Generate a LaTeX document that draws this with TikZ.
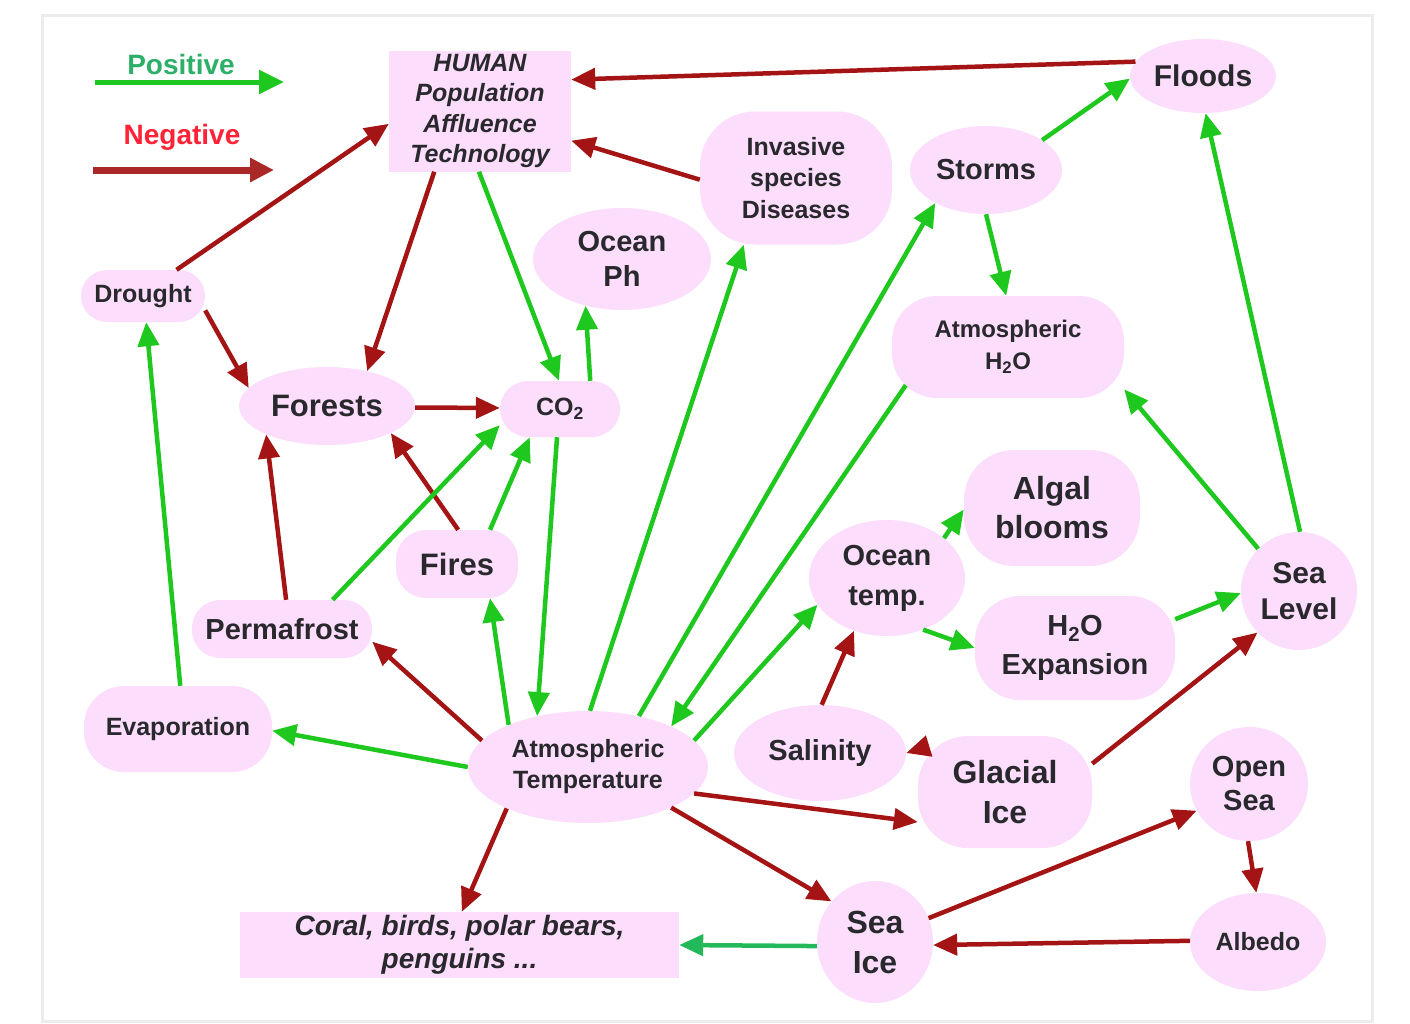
\documentclass[tikz,border=0pt]{standalone}
\usepackage{fontspec}
\setmainfont{Liberation Sans}
\usetikzlibrary{arrows.meta,shapes.geometric,calc}

\definecolor{nodepink}{RGB}{252,222,252}
\definecolor{posgreen}{RGB}{30,200,30}
\definecolor{negred}{RGB}{165,20,20}
\definecolor{legendred}{RGB}{255,35,55}
\definecolor{legendgreen}{RGB}{45,175,105}
\definecolor{legendneg}{RGB}{170,40,40}
\definecolor{tealgreen}{RGB}{35,185,90}
\definecolor{inkgrey}{RGB}{40,40,45}
\definecolor{framegrey}{RGB}{236,236,236}

\newcommand{\fsz}[2]{\fontsize{#1}{#2}\selectfont}

\tikzset{
  box/.style={fill=nodepink, draw=none, inner sep=0pt, text=inkgrey, align=center},
  oval/.style={box, ellipse},
  pill/.style={box, rectangle, rounded corners=#1},
  pill/.default=30pt,
  flat/.style={box, rectangle},
  poslink/.style={draw=posgreen, line width=4.5pt, -{Triangle[length=24pt,width=21pt]}},
  neglink/.style={draw=negred, line width=4.5pt, -{Triangle[length=24pt,width=21pt]}},
}

\begin{document}
\begin{tikzpicture}[x=1pt,y=-1pt]
\useasboundingbox (0,0) rectangle (1410,1023);
\fill[white] (0,0) rectangle (1410,1023);
\draw[framegrey, line width=3pt] (42,15) rectangle (1372,1021);

% legend
\node[font=\bfseries\fsz{28}{32}, text=legendgreen] (postext) at (181,64) {Positive};
\coordinate (posA) at (95,82);
\coordinate (posB) at (284,82);
\draw[draw=posgreen, line width=5pt, -{Triangle[length=25pt,width=23pt]}] (posA) -- (posB);
\node[font=\bfseries\fsz{28}{32}, text=legendred] (negtext) at (182,137) {Negative};
\coordinate (negA) at (93,170);
\coordinate (negB) at (274,170);
\draw[draw=legendneg, line width=7pt, -{Triangle[length=24pt,width=23pt]}] (negA) -- (negB);

% nodes
\node[flat, font=\bfseries\itshape\fsz{25}{30.5}, minimum width=182pt, minimum height=121pt] (human) at (480,111) {HUMAN\\Population\\Affluence\\Technology};
\node[oval, font=\bfseries\fsz{30}{36}, minimum width=146pt, minimum height=74pt] (floods) at (1203,76) {Floods};
\node[pill=55pt, font=\bfseries\fsz{25}{31.5}, minimum width=192pt, minimum height=133pt] (invasive) at (796,178) {Invasive\\species\\Diseases};
\node[oval, font=\bfseries\fsz{29}{34}, minimum width=152pt, minimum height=88pt] (storms) at (986,170) {Storms};
\node[oval, font=\bfseries\fsz{29}{35}, minimum width=178pt, minimum height=102pt] (oceanph) at (622,259) {Ocean\\Ph};
\node[pill=26pt, font=\bfseries\fsz{25}{30}, minimum width=124pt, minimum height=52pt] (drought) at (143,296) {Drought};
\node[pill=45pt, font=\bfseries\fsz{24}{32}, minimum width=232pt, minimum height=102pt] (atmh2o) at (1008,347) {Atmospheric\\H\textsubscript{2}O};
\node[oval, font=\bfseries\fsz{31}{36}, minimum width=176pt, minimum height=78pt] (forests) at (327,406) {Forests};
\node[pill=28pt, font=\bfseries\fsz{25}{30}, minimum width=120pt, minimum height=56pt] (co2) at (560,409) {CO\textsubscript{2}};
\node[pill=50pt, font=\bfseries\fsz{32}{39}, minimum width=176pt, minimum height=116pt] (algal) at (1052,508) {Algal\\blooms};
\node[pill=30pt, font=\bfseries\fsz{31}{36}, minimum width=122pt, minimum height=68pt] (fires) at (457,564) {Fires};
\node[oval, font=\bfseries\fsz{29}{40}, minimum width=156pt, minimum height=116pt] (oceantemp) at (887,578) {Ocean\\temp.};
\node[oval, font=\bfseries\fsz{30}{36}, minimum width=116pt, minimum height=118pt] (sealevel) at (1299,591) {Sea\\Level};
\node[pill=45pt, font=\bfseries\fsz{29}{39}, minimum width=200pt, minimum height=104pt] (h2oexp) at (1075,648) {H\textsubscript{2}O\\Expansion};
\node[pill=28pt, font=\bfseries\fsz{29}{34}, minimum width=180pt, minimum height=58pt] (permafrost) at (282,629) {Permafrost};
\node[pill=40pt, font=\bfseries\fsz{25}{30}, minimum width=188pt, minimum height=86pt] (evap) at (178,729) {Evaporation};
\node[oval, font=\bfseries\fsz{25}{31}, minimum width=240pt, minimum height=112pt] (atmtemp) at (588,767) {Atmospheric\\Temperature};
\node[oval, font=\bfseries\fsz{29}{34}, minimum width=172pt, minimum height=96pt] (salinity) at (820,753) {Salinity};
\node[pill=50pt, font=\bfseries\fsz{32}{40}, minimum width=174pt, minimum height=112pt] (glacial) at (1005,792) {Glacial\\Ice};
\node[oval, font=\bfseries\fsz{29}{34}, minimum width=118pt, minimum height=114pt] (opensea) at (1249,784) {Open\\Sea};
\node[flat, font=\bfseries\itshape\fsz{28}{33}, minimum width=439pt, minimum height=66pt] (coral) at (459.5,945) {Coral, birds, polar bears,\\penguins ...};
\node[oval, font=\bfseries\fsz{32}{40}, minimum width=116pt, minimum height=122pt] (seaice) at (875,942) {Sea\\Ice};
\node[oval, font=\bfseries\fsz{25}{30}, minimum width=136pt, minimum height=98pt] (albedo) at (1258,942) {Albedo};

% negative links
\draw[neglink] (floods.168) -- (human.19);
\draw[neglink] (invasive.181) -- (human.342);
\draw[neglink] (drought.38) -- (human.188);
\draw[neglink] (human.233) -- (forests.41);
\draw[neglink] (drought.347) -- (forests.167);
\draw[neglink] (forests.359) -- (co2.179);
\draw[neglink] (fires.88) -- (forests.337);
\draw[neglink] (permafrost.82) -- (forests.205);
\draw[neglink] (atmtemp.166) -- (permafrost.352);
\draw[neglink] (salinity.88) -- (oceantemp.238);
\draw[neglink] (glacial.154) -- (salinity.0);
\draw[neglink] (atmtemp.346) -- (glacial.199);
\draw[neglink] (atmtemp.334) -- (seaice.137);
\draw[neglink] (atmtemp.207) -- (coral.86);
\draw[neglink] (glacial.18) -- (sealevel.225);
\draw[neglink] (seaice.24) -- (opensea.207);
\draw[neglink] (opensea.269) -- (albedo.92);
\draw[neglink] (albedo.179) -- (seaice.357);

% positive links
\draw[poslink] (human.269) -- (co2.92);
\draw[poslink] (storms.270) -- (atmh2o.92);
\draw[poslink] (storms.28) -- (floods.182);
\draw[poslink] (sealevel.89) -- (floods.274);
\draw[poslink] (sealevel.134) -- (atmh2o.340);
\draw[poslink] (co2.43) -- (oceanph.232);
\draw[poslink] (fires.46) -- (co2.223);
\draw[poslink] (permafrost.30) -- (co2.195);
\draw[poslink] (evap.87) -- (drought.277);
\draw[poslink] (atmtemp.180) -- (evap.359);
\draw[poslink] (atmtemp.152) -- (fires.314);
\draw[poslink] (co2.264) -- (atmtemp.135);
\draw[poslink] (atmtemp.88) -- (invasive.232);
\draw[poslink] (atmtemp.45) -- (storms.213);
\draw[poslink] ($(atmh2o.south west)+(14,-13)$) -- (atmtemp.26);
\draw[poslink] (atmtemp.14) -- (oceantemp.201);
\draw[poslink] (oceantemp.35) -- (algal.181);
\draw[poslink] (oceantemp.305) -- (h2oexp.180);
\draw[poslink] (h2oexp.16) -- (sealevel.182);
\draw[poslink, draw=tealgreen] (seaice.184) -- (coral.0);
\end{tikzpicture}
\end{document}
